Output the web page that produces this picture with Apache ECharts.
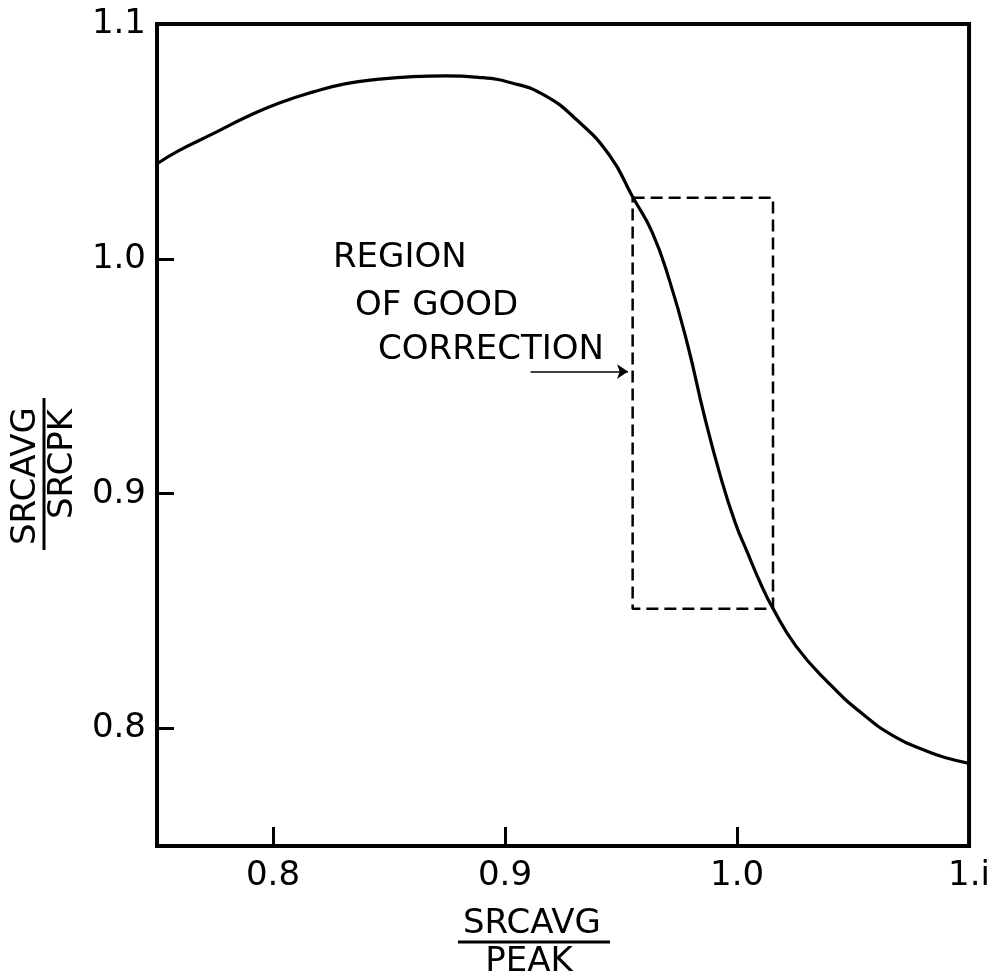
<!DOCTYPE html>
<html>
<head>
<meta charset="utf-8">
<script src="https://cdn.jsdelivr.net/npm/echarts@6/dist/echarts.min.js"></script>
<style>
  html, body { margin: 0; padding: 0; background: #fff; }
  #chart { width: 993px; height: 980px; }
</style>
</head>
<body>
<div id="chart"></div>
<script>
// Correction ratio curve: SRCAVG/PEAK (x) against SRCAVG/SRCPK (y)
const curveX = [0.750, 0.7596, 0.7742, 0.7885, 0.8027, 0.8174, 0.8315, 0.8457, 0.8602, 0.8744,
                0.8885, 0.9030, 0.9171, 0.9311, 0.9451, 0.9551, 0.9634, 0.9711, 0.9788, 0.9859,
                0.9928, 0.9992, 1.0045, 1.0100, 1.0153, 1.0254, 1.0394, 1.0535, 1.0677, 1.0819,
                1.0904, 1.100];
const curveY = [1.0405, 1.0462, 1.0533, 1.0604, 1.0664, 1.0711, 1.0746, 1.0765, 1.0776, 1.0779,
                1.0773, 1.0749, 1.0696, 1.0590, 1.0440, 1.0262, 1.0114, 0.9901, 0.9630, 0.9332,
                0.9076, 0.8877, 0.8749, 0.8621, 0.8515, 0.8351, 0.8195, 0.8067, 0.7967, 0.7903,
                0.7875, 0.7852];

// Region of good correction (dashed rectangle)
const boxX = [0.955, 1.0155];
const boxY = [0.851, 1.026];

// Pointer arrow into the region
const arrowX = [0.911, 0.953];
const arrowY = 0.952;

const xTicks = [0.8, 0.9, 1.0, 1.1];
const xTickLabels = ['0.8', '0.9', '1.0', '1.i'];
const yTicks = [0.8, 0.9, 1.0, 1.1];
const yTickLabels = ['0.8', '0.9', '1.0', '1.1'];

const FONT = 'DejaVu Sans';

const curveData = curveX.map((x, i) => [x, curveY[i]]);
const boxData = [
  [boxX[0], boxY[1]], [boxX[1], boxY[1]], [boxX[1], boxY[0]],
  [boxX[0], boxY[0]], [boxX[0], boxY[1]]
];

const chart = echarts.init(document.getElementById('chart'), null, { renderer: 'canvas' });

function labelFrom(ticks, labels) {
  return v => {
    for (let i = 0; i < ticks.length; i++) {
      if (Math.abs(v - ticks[i]) < 1e-6) return labels[i];
    }
    return '';
  };
}

const option = {
  animation: false,
  backgroundColor: '#ffffff',
  grid: {
    left: 157, right: 19, top: 24, bottom: 134,
    show: true, borderColor: '#000', borderWidth: 4, backgroundColor: 'transparent'
  },
  xAxis: {
    type: 'value', min: 0.75, max: 1.1,
    axisLine: { show: false },
    splitLine: { show: false },
    axisTick: { show: true, inside: true, length: 19, customValues: xTicks,
                lineStyle: { color: '#000', width: 3 } },
    axisLabel: { customValues: xTicks, formatter: labelFrom(xTicks, xTickLabels),
                 color: '#000', fontFamily: FONT, fontSize: 34, lineHeight: 34, margin: 13 }
  },
  yAxis: {
    type: 'value', min: 0.75, max: 1.1,
    axisLine: { show: false },
    splitLine: { show: false },
    axisTick: { show: true, inside: true, length: 17, customValues: yTicks,
                lineStyle: { color: '#000', width: 3 } },
    axisLabel: { customValues: yTicks, formatter: labelFrom(yTicks, yTickLabels),
                 color: '#000', fontFamily: FONT, fontSize: 34, lineHeight: 34, margin: 11 }
  },
  series: [
    {
      type: 'line', data: curveData, smooth: 0.5, showSymbol: false,
      lineStyle: { color: '#000', width: 3.2 }
    },
    {
      type: 'line', data: boxData, showSymbol: false,
      lineStyle: { color: '#000', width: 2.5, type: [12, 6] }
    },
    {
      type: 'line', data: [], showSymbol: false,
      markLine: {
        silent: true, symbol: ['none', 'arrow'], symbolSize: 11,
        label: { show: false },
        lineStyle: { color: '#000', width: 1.6, type: 'solid' },
        data: [[{ coord: [arrowX[0], arrowY] }, { coord: [arrowX[1], arrowY] }]]
      }
    }
  ],
  graphic: [
    // annotation text
    { type: 'text', left: 333, top: 241, style: { text: 'REGION', font: '34px "DejaVu Sans"', fill: '#000' } },
    { type: 'text', left: 355, top: 289, style: { text: 'OF GOOD', font: '34px "DejaVu Sans"', fill: '#000' } },
    { type: 'text', left: 378, top: 333, style: { text: 'CORRECTION', font: '34px "DejaVu Sans"', fill: '#000' } },
    // x-axis name as a fraction
    { type: 'text', x: 532, y: 924, style: { text: 'SRCAVG', font: '34px "DejaVu Sans"', fill: '#000', align: 'center', verticalAlign: 'middle' } },
    { type: 'line', shape: { x1: 458, y1: 942, x2: 610, y2: 942 }, style: { stroke: '#000', lineWidth: 3 } },
    { type: 'text', x: 529, y: 962, style: { text: 'PEAK', font: '34px "DejaVu Sans"', fill: '#000', align: 'center', verticalAlign: 'middle' } },
    // y-axis name as a fraction, reading upward
    { type: 'text', x: 26, y: 476, rotation: Math.PI / 2, style: { text: 'SRCAVG', font: '34px "DejaVu Sans"', fill: '#000', align: 'center', verticalAlign: 'middle' } },
    { type: 'line', shape: { x1: 44, y1: 398, x2: 44, y2: 550 }, style: { stroke: '#000', lineWidth: 3 } },
    { type: 'text', x: 63, y: 464, rotation: Math.PI / 2, style: { text: 'SRCPK', font: '34px "DejaVu Sans"', fill: '#000', align: 'center', verticalAlign: 'middle' } }
  ]
};

chart.setOption(option);
</script>
</body>
</html>
